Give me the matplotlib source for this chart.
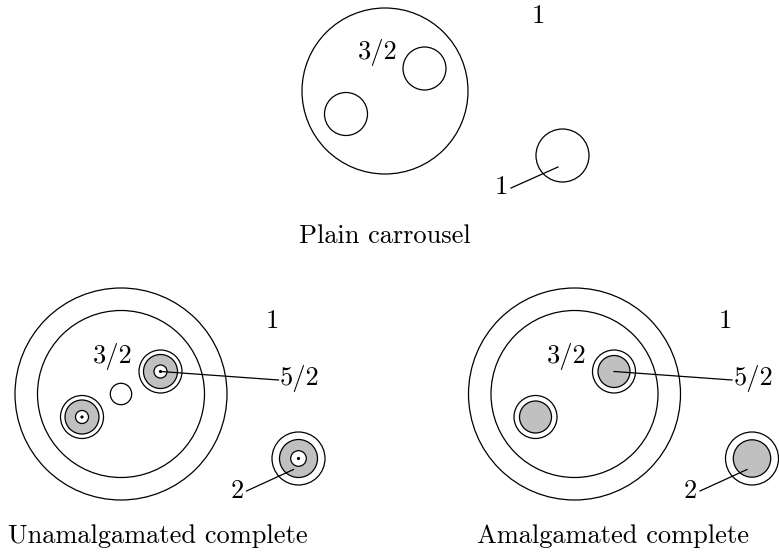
import matplotlib
matplotlib.use("Agg")
import matplotlib.pyplot as plt
from matplotlib.patches import Circle

# panel layout (pixel coords, y down)
panel_titles = ["Plain carrousel", "Unamalgamated complete", "Amalgamated complete"]
panel_centers = [(385, 91), (121, 394), (574.5, 394)]
panel_kinds = ["plain", "unamalgamated", "amalgamated"]
title_pos = [(385, 236), (157.5, 536), (613.5, 536)]

outer_r = 106
inner_r = 83.5
# small inner boundaries, offsets from panel centre
small_offsets = [(39.5, -22.5), (-39, 23)]
small_r = 21.5
# far-away boundary component
far_offset = (177.5, 64.5)
far_r = 26.5

gray = "#c0c0c0"
lw = 0.9
fs = 19
font = "cmr10"


def circ(ax, c, r, fc="none", zorder=2):
    ax.add_patch(Circle(c, r, facecolor=fc, edgecolor="black", lw=lw, zorder=zorder))


def text(ax, x, y, s):
    ax.text(x, y, s, fontsize=fs, family=font, ha="center", va="center")


def nested(ax, c, r_out, r_gray, r_white, dot):
    circ(ax, c, r_out, fc="white")
    circ(ax, c, r_gray, fc=gray, zorder=3)
    if r_white:
        circ(ax, c, r_white, fc="white", zorder=4)
    if dot:
        ax.add_patch(Circle(c, 1.6, facecolor="black", edgecolor="none", zorder=6))


fig = plt.figure(figsize=(7.79, 5.57), dpi=100)
ax = fig.add_axes([0, 0, 1, 1])
ax.set_xlim(0, 779)
ax.set_ylim(557, 0)
ax.axis("off")

for (cx, cy), kind, title, tp in zip(panel_centers, panel_kinds, panel_titles, title_pos):
    def at(o):
        return (cx + o[0], cy + o[1])

    up = at(small_offsets[0])
    far = at(far_offset)
    if kind == "plain":
        circ(ax, (cx, cy), 83)
        for o in small_offsets:
            circ(ax, at(o), small_r)
        circ(ax, far, far_r)
        text(ax, cx + 153, cy - 75, "1")
        text(ax, cx - 7, cy - 39, "3/2")
        ax.plot([cx + 126, cx + 173], [cy + 97, cy + 76], color="black", lw=lw, zorder=5)
        text(ax, cx + 116, cy + 96, "1")
    else:
        circ(ax, (cx, cy), outer_r)
        circ(ax, (cx, cy), inner_r)
        if kind == "unamalgamated":
            for o in small_offsets:
                nested(ax, at(o), small_r, 17, 6.5, True)
            circ(ax, (cx, cy), 10.7)
            nested(ax, far, 26.5, 19, 7.8, True)
        else:
            for o in small_offsets:
                nested(ax, at(o), small_r, 16, None, False)
            nested(ax, far, 26.5, 18.7, None, False)
        text(ax, cx + 151, cy - 73, "1")
        text(ax, cx - 8, cy - 38, "3/2")
        ax.plot([up[0], cx + 157.5], [up[1], cy - 14], color="black", lw=lw, zorder=5)
        text(ax, cx + 179, cy - 16, "5/2")
        ax.plot([cx + 125.5, cx + 172.5], [cy + 97, cy + 75.5], color="black", lw=lw, zorder=5)
        text(ax, cx + 116, cy + 97, "2")
    text(ax, tp[0], tp[1], title)

fig.savefig("out.png", dpi=100)
